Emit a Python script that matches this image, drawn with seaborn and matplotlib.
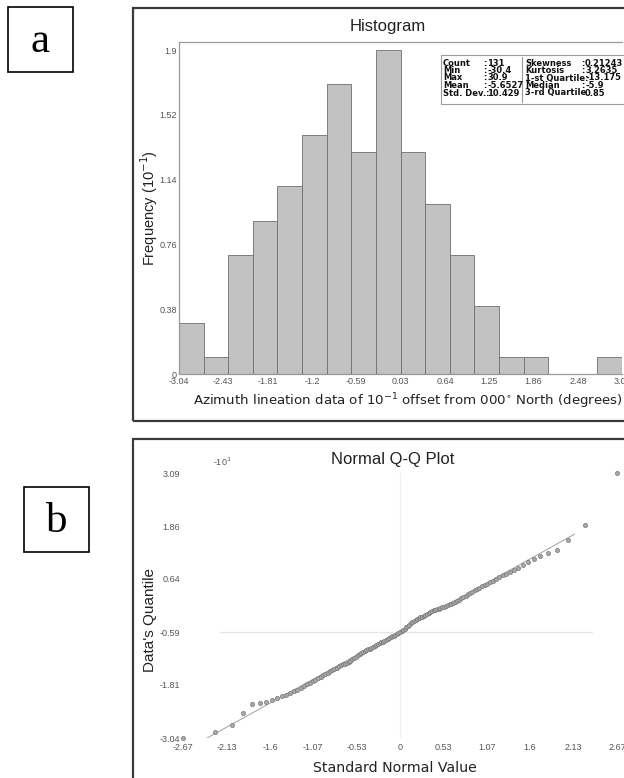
import numpy as np
import pandas as pd
import matplotlib
matplotlib.use("Agg")
import matplotlib.pyplot as plt
from matplotlib.patches import Rectangle
import seaborn as sns
from statistics import NormalDist

# ---------------- data ----------------
# histogram (values in units of 10^1 degrees)
hist_min, hist_max, n_bins = -3.04, 3.09, 18
bin_counts = [3, 1, 7, 9, 11, 14, 17, 13, 19, 13, 10, 7, 4, 1, 1, 0, 0, 1]
hist_xticks = [-3.04, -2.43, -1.81, -1.2, -0.59, 0.03, 0.64, 1.25, 1.86, 2.48, 3.09]
hist_yticks = [0, 0.38, 0.76, 1.14, 1.52, 1.9]

stats_left = [("Count", "131"), ("Min", "-30.4"), ("Max", "30.9"),
              ("Mean", "-5.6527"), ("Std. Dev.:", "10.429")]
stats_right = [("Skewness", "0.21243"), ("Kurtosis", "3.2635"),
               ("1-st Quartile:", "-13.175"), ("Median", "-5.9"),
               ("3-rd Quartile", "0.85")]
data_mean, data_std = -5.6527, 10.429

sorted_values = [
    -30.4, -29.0, -27.5,
    -24.7,
    -22.6, -22.4, -22.0, -21.6, -21.2, -20.8, -20.4,
    -20.0, -19.6, -19.2, -18.8, -18.4, -18.0, -17.6, -17.2, -17.0,
    -16.6, -16.2, -15.9, -15.6, -15.3, -15.0, -14.7, -14.4, -14.1, -13.8, -13.5,
    -13.3, -13.2, -13.1, -12.8, -12.5, -12.2, -11.9, -11.6, -11.3, -11.0, -10.7,
    -10.5, -10.3, -10.1,
    -9.9, -9.7, -9.5, -9.3, -9.1, -8.9, -8.7, -8.5, -8.3, -8.1, -7.9, -7.7, -7.5,
    -7.3, -7.1, -6.9, -6.7,
    -6.5, -6.3, -6.1, -5.9, -5.7, -5.4, -5.1, -4.8, -4.5, -4.2, -3.9, -3.6, -3.3,
    -3.1, -2.9, -2.7, -2.5, -2.3, -2.1, -1.9, -1.7, -1.5, -1.3, -1.1, -0.9, -0.7,
    -0.6, -0.5, -0.3, -0.2, 0.0, 0.1,
    0.3, 0.5, 0.7, 0.85, 1.0, 1.3, 1.6, 1.9, 2.2, 2.5, 2.8, 3.1, 3.4,
    3.8, 4.1, 4.4, 4.7, 5.0, 5.3, 5.6, 6.0, 6.4, 6.8,
    7.2, 7.6, 8.0, 8.5, 9.0, 9.6, 10.2,
    11.0, 11.8, 12.5, 13.2,
    15.5,
    18.8,
    30.9,
]
qq_xticks = [-2.67, -2.13, -1.6, -1.07, -0.53, 0, 0.53, 1.07, 1.6, 2.13, 2.67]
qq_xticklabels = ["-2.67", "-2.13", "-1.6", "-1.07", "-0.53", "0", "0.53", "1.07", "1.6", "2.13", "2.67"]
qq_yticks = [-3.04, -1.81, -0.59, 0.64, 1.86, 3.09]
ref_line_x = [-2.40, 2.15]

# ---------------- figure ----------------
sns.set_theme(style="white")
plt.rcParams['font.family'] = ['Liberation Sans', 'DejaVu Sans']

W, H = 624, 778
fig = plt.figure(figsize=(W / 100, H / 100), dpi=100)
fig.patch.set_facecolor("white")


def fx(px):
    return px / W


def fy(py):
    return 1 - py / H


# outer panel frames
for (x0, y0, x1, y1) in [(133, 8, 640, 421), (133, 439, 640, 800)]:
    fig.patches.append(Rectangle((fx(x0), fy(y1)), fx(x1 - x0), (y1 - y0) / H,
                                 transform=fig.transFigure, fill=False,
                                 edgecolor="#3a3a3a", linewidth=1.6, zorder=0))
# letter boxes
for (x0, y0, x1, y1, letter) in [(8, 7, 73, 72, "a"), (24, 487, 89, 552, "b")]:
    fig.patches.append(Rectangle((fx(x0), fy(y1)), fx(x1 - x0), (y1 - y0) / H,
                                 transform=fig.transFigure, fill=False,
                                 edgecolor="black", linewidth=1.2))
    fig.text(fx((x0 + x1) / 2), fy((y0 + y1) / 2 + 2), letter, ha="center", va="center",
             fontsize=31, family=["Liberation Serif"], color="black")

# ---------------- histogram ----------------
ax1 = fig.add_axes([fx(179), fy(374), fx(443), (374 - 42) / H])
edges = [float(e) for e in np.linspace(hist_min, hist_max, n_bins + 1)]
centers = [(a + b) / 2 for a, b in zip(edges[:-1], edges[1:])]
hist_df = pd.DataFrame({"x": centers, "w": [c / 10.0 for c in bin_counts]})
sns.histplot(data=hist_df, x="x", weights="w", bins=edges, ax=ax1,
             color="#c2c2c2", edgecolor="#6e6e6e", linewidth=0.6, alpha=1.0)
ax1.set_xlim(hist_min, hist_max)
ax1.set_ylim(0, (374 - 42) / 170.5)
ax1.set_xticks(hist_xticks)
ax1.set_xticklabels([f"{v:g}" for v in hist_xticks])
ax1.set_yticks(hist_yticks)
ax1.set_yticklabels([f"{v:g}" for v in hist_yticks])
ax1.tick_params(axis="both", length=0, labelsize=6.5, labelcolor="#555555")
ax1.tick_params(axis="x", pad=2)
ax1.tick_params(axis="y", pad=1.5)
ax1.set_xlabel("")
ax1.set_ylabel("")
for s in ["left", "top", "bottom"]:
    ax1.spines[s].set_color("#9a9a9a")
    ax1.spines[s].set_linewidth(0.9)
ax1.spines["right"].set_visible(False)

fig.text(fx(388), fy(26), "Histogram", ha="center", va="center", fontsize=12, color="#222222")
fig.text(fx(149), fy(208), "Frequency (10$^{-1}$)", ha="center", va="center",
         rotation=90, fontsize=10.5, color="#222222")
fig.text(fx(408), fy(401), "Azimuth lineation data of 10$^{-1}$ offset from 000$^{\\circ}$ North (degrees)",
         ha="center", va="center", fontsize=9.6, family=["DejaVu Sans"], color="#222222")

# stats box
fig.patches.append(Rectangle((fx(441), fy(104)), fx(200), 49 / H, transform=fig.transFigure,
                             facecolor="white", edgecolor="#9a9a9a", linewidth=0.8, zorder=5))
fig.lines.append(plt.Line2D([fx(522), fx(522)], [fy(57), fy(102)], transform=fig.transFigure,
                            color="#9a9a9a", linewidth=0.8, zorder=6))
row_y = [63, 70.5, 78, 85.5, 93]
sfont = dict(fontsize=6.0, family=["DejaVu Sans"], fontweight="bold", color="#111111",
             va="center", ha="left", zorder=7)
for (lab, val), yy in zip(stats_left, row_y):
    fig.text(fx(443), fy(yy), lab, **sfont)
    if not lab.endswith(":"):
        fig.text(fx(483), fy(yy), ":", **sfont)
    fig.text(fx(487), fy(yy), val, **sfont)
for (lab, val), yy in zip(stats_right, row_y):
    fig.text(fx(525), fy(yy), lab, **sfont)
    if not (lab.endswith(":") or lab.startswith("3-rd")):
        fig.text(fx(581), fy(yy), ":", **sfont)
    fig.text(fx(585), fy(yy), val, **sfont)

# ---------------- Q-Q plot ----------------
ax2 = fig.add_axes([fx(183), fy(738), fx(617 - 183), (738 - 473) / H])
n = len(sorted_values)
nd = NormalDist()
theo = [nd.inv_cdf((i - 0.5) / n) for i in range(1, n + 1)]
qq_df = pd.DataFrame({"z": theo, "q": [v / 10.0 for v in sorted_values]})

ax2.axhline(-0.59, xmin=(-2.22 + 2.67) / 5.34, xmax=(2.36 + 2.67) / 5.34,
            color="#e4e4e4", linewidth=0.9, zorder=0)
ax2.axvline(0, color="#f0f0f0", linewidth=0.9, zorder=0)
ax2.axvline(2.71, ymin=0.1, ymax=0.85, color="#e8e8e8", linewidth=0.9, zorder=0)

line_df = pd.DataFrame({"z": ref_line_x,
                        "q": [(data_mean + data_std * v) / 10.0 for v in ref_line_x]})
sns.lineplot(data=line_df, x="z", y="q", ax=ax2, color="#a0a0a0", linewidth=0.7, zorder=2)
sns.scatterplot(data=qq_df, x="z", y="q", ax=ax2, s=9, color="#a8a8a8",
                edgecolor="#7a7a7a", linewidth=0.5, zorder=3, clip_on=False)

ax2.set_xlim(-2.67, 2.67)
ax2.set_ylim(-3.04, 3.09)
ax2.set_xticks(qq_xticks)
ax2.set_xticklabels(qq_xticklabels)
ax2.set_yticks(qq_yticks)
ax2.set_yticklabels([f"{v:g}" for v in qq_yticks])
ax2.tick_params(axis="both", length=0, labelsize=6.5, labelcolor="#555555")
ax2.tick_params(axis="x", pad=3.5)
ax2.tick_params(axis="y", pad=2)
ax2.set_xlabel("")
ax2.set_ylabel("")
for s in ax2.spines.values():
    s.set_visible(False)
ax2.patch.set_alpha(0)

fig.text(fx(393), fy(460), "Normal Q-Q Plot", ha="center", va="center", fontsize=12, color="#222222")
fig.text(fx(222), fy(462), "-10$^{1}$", ha="center", va="center", fontsize=6.5, color="#555555")
fig.text(fx(150), fy(620), "Data's Quantile", ha="center", va="center", rotation=90,
         fontsize=11, color="#222222")
fig.text(fx(395), fy(768), "Standard Normal Value", ha="center", va="center", fontsize=10.2,
         family=["DejaVu Sans"], color="#222222")

fig.savefig("out.png", dpi=100, facecolor="white")
